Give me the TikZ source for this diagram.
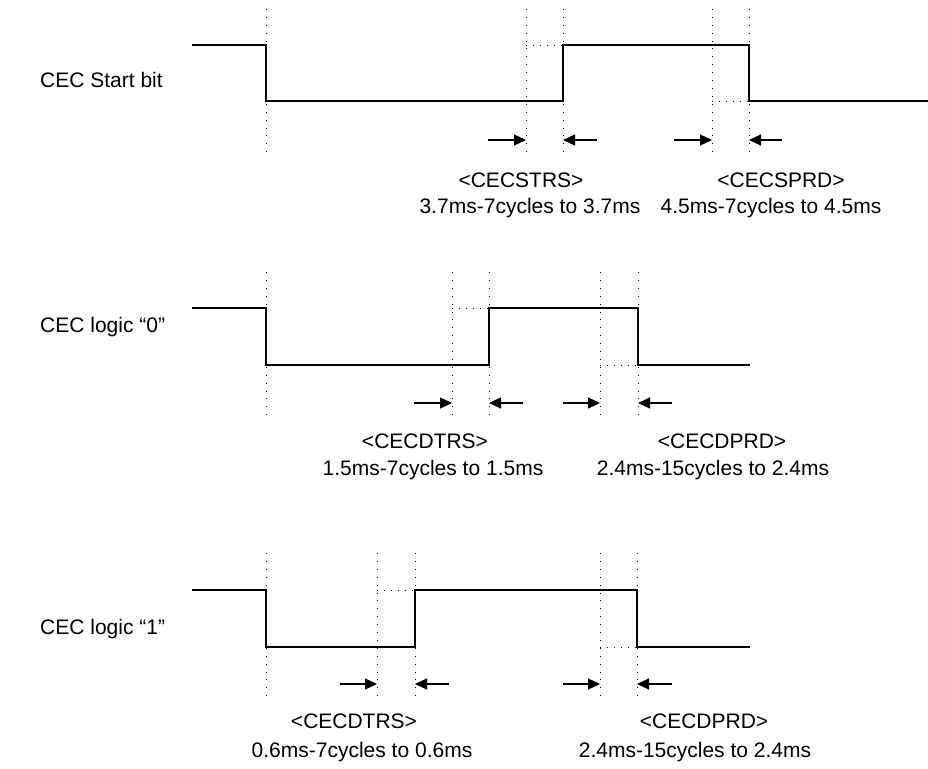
\documentclass[tikz,border=0pt]{standalone}
\usepackage{fontspec}
\setmainfont{Liberation Sans}
\usetikzlibrary{arrows.meta}
\begin{document}
\begin{tikzpicture}[x=1pt,y=-1pt,
  signal/.style={line width=1.3pt,line join=miter},
  guide/.style={line width=0.9pt,dash pattern=on 0.9pt off 7pt},
  stub/.style={line width=0.9pt,dash pattern=on 0.9pt off 6pt},
  pointer/.style={line width=1.1pt,-{Triangle[length=12pt,width=11pt]}},
  lbl/.style={font=\fontsize{21}{25}\selectfont,inner sep=0pt},
  rowname/.style={lbl,anchor=base west},
  timing/.style={lbl,anchor=base}]
\useasboundingbox (0,0) rectangle (928,768);

% ---------- CEC Start bit ----------
\node[rowname] (nS) at (40,87) {CEC Start bit};
\draw[signal] (192,45) -- (266,45) -- (266,101) -- (563,101) -- (563,45)
  -- (749,45) -- (749,101) -- (928,101);
\foreach \x/\n in {266/s0,526/s1,563/s2,712/s3,749/s4}{
  \coordinate (\n t) at (\x,9);
  \coordinate (\n b) at (\x,158);
  \coordinate (\n a) at (\x,140);
  \draw[guide] (\n t) -- (\n b);
}
\draw[stub] (s1t |- 0,45) -- (s2t |- 0,45);
\draw[stub] (s3t |- 0,101) -- (s4t |- 0,101);
\coordinate (sA) at (488,140); \coordinate (sB) at (597,140);
\coordinate (sC) at (674,140); \coordinate (sD) at (782,140);
\draw[pointer] (sA) -- (s1a);
\draw[pointer] (sB) -- (s2a);
\draw[pointer] (sC) -- (s3a);
\draw[pointer] (sD) -- (s4a);
\node[timing] (tS1) at (521,187) {<CECSTRS>};
\node[timing] (tS2) at (530,213) {3.7ms-7cycles to 3.7ms};
\node[timing] (tS3) at (781,187) {<CECSPRD>};
\node[timing] (tS4) at (771,213) {4.5ms-7cycles to 4.5ms};

% ---------- CEC logic "0" ----------
\node[rowname] (nZ) at (40,332) {CEC logic “0”};
\draw[signal] (192,308) -- (266,308) -- (266,365) -- (489,365) -- (489,308)
  -- (638,308) -- (638,365) -- (750,365);
\foreach \x/\n in {266/z0,452/z1,489/z2,600/z3,638/z4}{
  \coordinate (\n t) at (\x,272);
  \coordinate (\n b) at (\x,422);
  \coordinate (\n a) at (\x,403);
  \draw[guide] (\n t) -- (\n b);
}
\draw[stub] (z1t |- 0,308) -- (z2t |- 0,308);
\draw[stub] (z3t |- 0,365) -- (z4t |- 0,365);
\coordinate (zA) at (414,403); \coordinate (zB) at (523,403);
\coordinate (zC) at (563,403); \coordinate (zD) at (672,403);
\draw[pointer] (zA) -- (z1a);
\draw[pointer] (zB) -- (z2a);
\draw[pointer] (zC) -- (z3a);
\draw[pointer] (zD) -- (z4a);
\node[timing] (tZ1) at (425,448) {<CECDTRS>};
\node[timing] (tZ2) at (433,475) {1.5ms-7cycles to 1.5ms};
\node[timing] (tZ3) at (722,448) {<CECDPRD>};
\node[timing] (tZ4) at (713,475) {2.4ms-15cycles to 2.4ms};

% ---------- CEC logic "1" ----------
\node[rowname] (nO) at (40,634) {CEC logic “1”};
\draw[signal] (192,590) -- (266,590) -- (266,647) -- (415,647) -- (415,590)
  -- (637,590) -- (637,647) -- (750,647);
\foreach \x/\n in {266/o0,377/o1,415/o2,600/o3,637/o4}{
  \coordinate (\n t) at (\x,553);
  \coordinate (\n b) at (\x,703);
  \coordinate (\n a) at (\x,684);
  \draw[guide] (\n t) -- (\n b);
}
\draw[stub] (o1t |- 0,590) -- (o2t |- 0,590);
\draw[stub] (o3t |- 0,647) -- (o4t |- 0,647);
\coordinate (oA) at (340,684); \coordinate (oB) at (449,684);
\coordinate (oC) at (563,684); \coordinate (oD) at (672,684);
\draw[pointer] (oA) -- (o1a);
\draw[pointer] (oB) -- (o2a);
\draw[pointer] (oC) -- (o3a);
\draw[pointer] (oD) -- (o4a);
\node[timing] (tO1) at (354,728) {<CECDTRS>};
\node[timing] (tO2) at (362,757) {0.6ms-7cycles to 0.6ms};
\node[timing] (tO3) at (704,728) {<CECDPRD>};
\node[timing] (tO4) at (695,757) {2.4ms-15cycles to 2.4ms};
\end{tikzpicture}
\end{document}
